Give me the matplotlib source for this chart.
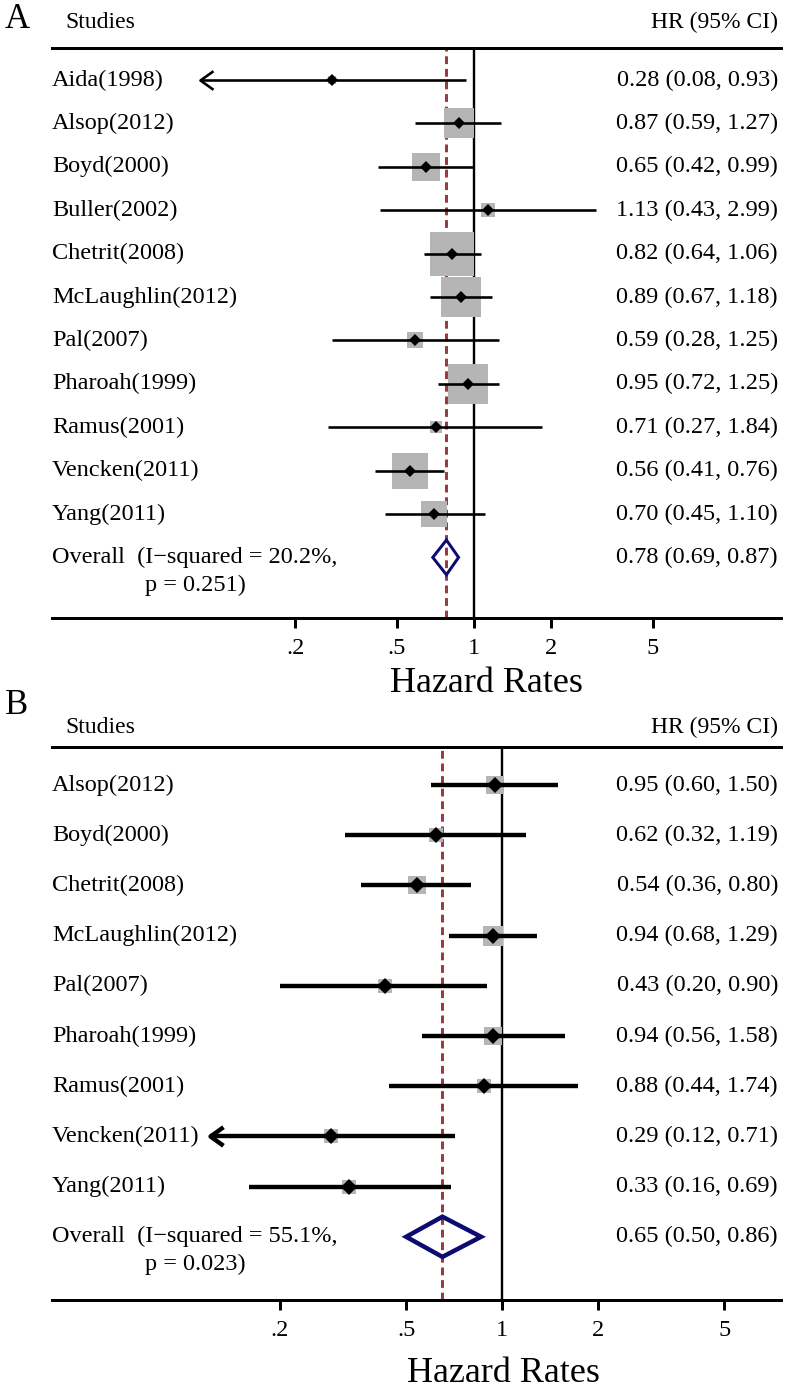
import matplotlib
matplotlib.use("Agg")
import matplotlib.pyplot as plt
import matplotlib.transforms as mtransforms
from matplotlib.path import Path
import numpy as np

plt.rcParams["font.family"] = ["Liberation Serif", "DejaVu Serif"]

# ---- panel A data ----
A_STUDIES = ["Aida(1998)", "Alsop(2012)", "Boyd(2000)", "Buller(2002)", "Chetrit(2008)",
             "McLaughlin(2012)", "Pal(2007)", "Pharoah(1999)", "Ramus(2001)",
             "Vencken(2011)", "Yang(2011)"]
A_HR = [0.28, 0.87, 0.65, 1.13, 0.82, 0.89, 0.59, 0.95, 0.71, 0.56, 0.70]
A_LO = [0.08, 0.59, 0.42, 0.43, 0.64, 0.67, 0.28, 0.72, 0.27, 0.41, 0.45]
A_HI = [0.93, 1.27, 0.99, 2.99, 1.06, 1.18, 1.25, 1.25, 1.84, 0.76, 1.10]
A_WEIGHT = [0.7, 9.3, 8.1, 2.0, 21.0, 16.5, 2.7, 17.5, 1.5, 13.5, 7.0]
A_OVERALL = [0.78, 0.69, 0.87]
A_I2 = 20.2
A_P = 0.251

# ---- panel B data ----
B_STUDIES = ["Alsop(2012)", "Boyd(2000)", "Chetrit(2008)", "McLaughlin(2012)", "Pal(2007)",
             "Pharoah(1999)", "Ramus(2001)", "Vencken(2011)", "Yang(2011)"]
B_HR = [0.95, 0.62, 0.54, 0.94, 0.43, 0.94, 0.88, 0.29, 0.33]
B_LO = [0.60, 0.32, 0.36, 0.68, 0.20, 0.56, 0.44, 0.12, 0.16]
B_HI = [1.50, 1.19, 0.80, 1.29, 0.90, 1.58, 1.74, 0.71, 0.69]
B_WEIGHT = [13.1, 8.9, 14.7, 18.2, 7.7, 13.1, 8.9, 7.7, 7.7]
B_OVERALL = [0.65, 0.50, 0.86]
B_I2 = 55.1
B_P = 0.023

TICKS = [0.2, 0.5, 1, 2, 5]
TICK_LABELS = [".2", ".5", "1", "2", "5"]

W, H = 786, 1389
PX = 0.72  # points per pixel at dpi 100
DASH_COLOR = "#9b3a3f"
BOX_COLOR = "#b5b5b5"
NAVY = "#0c0c70"

# open "<" head for confidence intervals running off the left of the scale
CHEVRON = Path([(1.4, 1.0), (0.0, 0.0), (1.4, -1.0)],
               [Path.MOVETO, Path.LINETO, Path.LINETO])


def draw_panel(fig, letter, studies, hr, lo, hi, weight, overall, i2, p, lay):
    top, bot = lay["top"], lay["bottom"]
    ax = fig.add_axes([52 / W, 1 - bot / H, 729 / W, (bot - top) / H])
    ax.set_xscale("log")
    ax.set_xlim(*lay["xlim"])
    row0, step = lay["row0"], lay["step"]
    ax.set_ylim((bot - row0) / step, (top - row0) / step)

    for s in ["left", "right"]:
        ax.spines[s].set_visible(False)
    for s in ["top", "bottom"]:
        ax.spines[s].set_linewidth(3 * PX)
    ax.set_yticks([])
    ax.xaxis.set_minor_locator(matplotlib.ticker.NullLocator())
    ax.set_xticks(TICKS)
    ax.set_xticklabels(TICK_LABELS, fontsize=17.5)
    ax.tick_params(axis="x", direction="out", length=10 * PX, width=3 * PX, pad=7)

    ax.axvline(1, color="black", lw=2.4 * PX, zorder=1)
    ax.axvline(overall[0], color=DASH_COLOR, lw=3 * PX, ls=(0, (2.6, 1.6)), zorder=1)

    clip_lo = lay["clip_lo"]
    for i in range(len(studies)):
        side = lay["box_k"] * np.sqrt(weight[i]) * PX
        ax.plot(hr[i], i, marker="s", ms=side, color=BOX_COLOR, mew=0, zorder=2)
        left = max(lo[i], clip_lo)
        ax.plot([left, hi[i]], [i, i], color="black", lw=lay["ci_lw"], zorder=3,
                solid_capstyle="butt")
        if lo[i] < clip_lo:
            ax.plot(clip_lo, i, marker=CHEVRON, ms=26 * PX, fillstyle="none",
                    mec="black", mew=lay["ci_lw"], zorder=3)
        ax.plot(hr[i], i, marker="D", ms=lay["dot"], color="black", mew=0, zorder=4)

    n = len(studies)
    est, olo, ohi = overall
    dh = 0.4
    ax.fill([olo, est, ohi, est], [n, n - dh, n, n + dh], facecolor="none",
            edgecolor=NAVY, lw=lay["dia_lw"], zorder=4)

    ytrans = mtransforms.blended_transform_factory(ax.transAxes, ax.transData)
    for i, name in enumerate(studies):
        ax.text(0, i, name, transform=ytrans, ha="left", va="center", fontsize=17.5)
        ax.text(726 / 729, i, f"{hr[i]:.2f} ({lo[i]:.2f}, {hi[i]:.2f})",
                transform=ytrans, ha="right", va="center", fontsize=17.5)
    ax.text(0, n, f"Overall  (I\u2212squared = {i2:.1f}%,", transform=ytrans,
            ha="left", va="center", fontsize=17.5)
    ptrans = mtransforms.offset_copy(ytrans, fig=fig, x=0, y=-28, units="dots")
    ax.text(93 / 729, n, f"p = {p:.3f})", transform=ptrans, ha="left", va="center",
            fontsize=17.5)
    ax.text(726 / 729, n, f"{est:.2f} ({olo:.2f}, {ohi:.2f})", transform=ytrans,
            ha="right", va="center", fontsize=17.5)

    # header and axis title
    fig.text(5 / W, 1 - lay["letter_y"] / H, letter, ha="left", va="center", fontsize=25)
    fig.text(65 / W, 1 - lay["head_y"] / H, "Studies", ha="left", va="center", fontsize=17)
    fig.text(778 / W, 1 - lay["head_y"] / H, "HR (95% CI)", ha="right", va="center",
             fontsize=17)
    fig.text(lay["title_x"] / W, 1 - lay["title_y"] / H, "Hazard Rates", ha="center",
             va="baseline", fontsize=26)
    return ax


fig = plt.figure(figsize=(W / 100, H / 100), dpi=100)

draw_panel(fig, "A", A_STUDIES, A_HR, A_LO, A_HI, A_WEIGHT, A_OVERALL, A_I2, A_P,
           dict(top=48, bottom=618, row0=80, step=43.4, xlim=(0.02248, 15.8),
                clip_lo=0.085, box_k=9.8, ci_lw=2.6 * PX, dia_lw=3 * PX, dot=6.5,
                letter_y=19, head_y=22, title_x=486, title_y=692))

draw_panel(fig, "B", B_STUDIES, B_HR, B_LO, B_HI, B_WEIGHT, B_OVERALL, B_I2, B_P,
           dict(top=747, bottom=1300, row0=785, step=50.2, xlim=(0.0385, 7.54),
                clip_lo=0.121, box_k=4.7, ci_lw=4.4 * PX, dia_lw=4.5 * PX, dot=8,
                letter_y=706, head_y=727, title_x=503, title_y=1382))

fig.savefig("out.png", dpi=100)
